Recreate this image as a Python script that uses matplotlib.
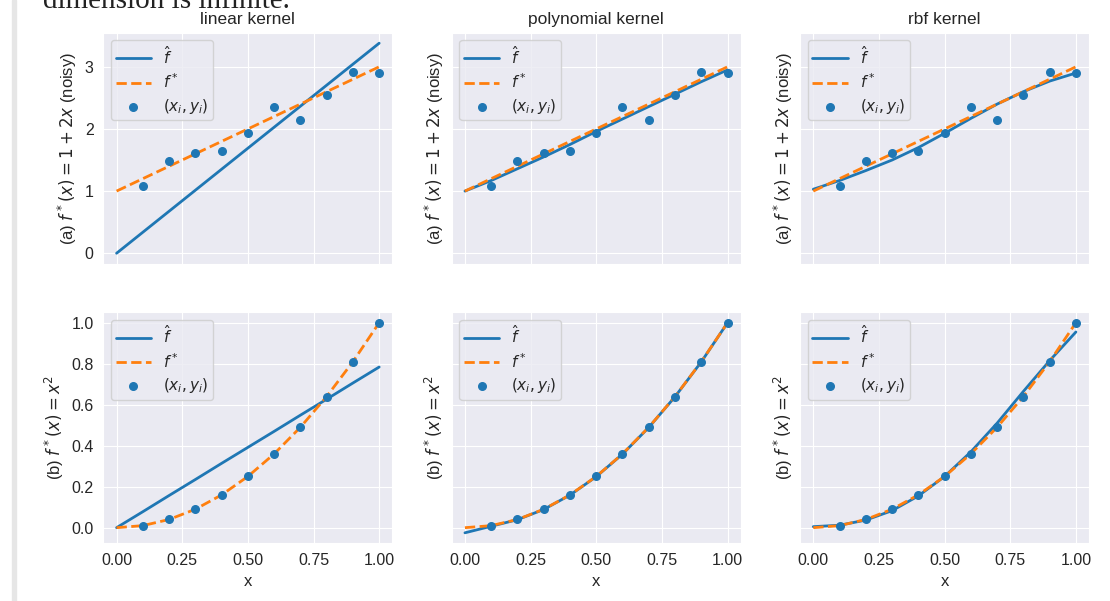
import numpy as np
import matplotlib.pyplot as plt
import seaborn as sns
from matplotlib.patches import Rectangle

# grid the curves are drawn on, and the training inputs
x_grid = [0.0, 0.1, 0.2, 0.3, 0.4, 0.5, 0.6, 0.7, 0.8, 0.9, 1.0]
x_train = [0.1, 0.2, 0.3, 0.4, 0.5, 0.6, 0.7, 0.8, 0.9, 1.0]

# (a) f*(x) = 1 + 2x with noise
y_train_a = [1.09, 1.49, 1.62, 1.64, 1.94, 2.36, 2.15, 2.55, 2.92, 2.90]
f_star_a = [1.0, 1.2, 1.4, 1.6, 1.8, 2.0, 2.2, 2.4, 2.6, 2.8, 3.0]
f_hat_a = {
    "linear": [0.0, 0.338, 0.676, 1.014, 1.352, 1.69, 2.028, 2.366, 2.704, 3.042, 3.38],
    "polynomial": [1.00, 1.17, 1.36, 1.55, 1.75, 1.96, 2.16, 2.36, 2.56, 2.76, 2.95],
    "rbf": [1.03, 1.17, 1.33, 1.50, 1.70, 1.93, 2.17, 2.40, 2.60, 2.77, 2.90],
}

# (b) f*(x) = x^2, no noise
y_train_b = [0.01, 0.04, 0.09, 0.16, 0.25, 0.36, 0.49, 0.64, 0.81, 1.0]
f_star_b = [0.0, 0.01, 0.04, 0.09, 0.16, 0.25, 0.36, 0.49, 0.64, 0.81, 1.0]
f_hat_b = {
    "linear": [0.0, 0.078, 0.157, 0.235, 0.314, 0.392, 0.47, 0.549, 0.627, 0.706, 0.784],
    "polynomial": [-0.025, 0.007, 0.039, 0.089, 0.159, 0.249, 0.359, 0.489, 0.639, 0.809, 1.0],
    "rbf": [0.005, 0.012, 0.037, 0.083, 0.155, 0.25, 0.37, 0.51, 0.665, 0.815, 0.955],
}

kernels = ["linear", "polynomial", "rbf"]
row_labels = [r"(a) $f^*(x) = 1 + 2x$ (noisy)", r"(b) $f^*(x) = x^2$"]

sns.set_style("darkgrid")
plt.rcParams["font.family"] = ["Liberation Sans", "DejaVu Sans"]
plt.rcParams["xtick.labelsize"] = 11.5
plt.rcParams["ytick.labelsize"] = 11.5
plt.rcParams["axes.labelsize"] = 12
plt.rcParams["axes.titlesize"] = 12.5
plt.rcParams["legend.fontsize"] = 11

fig, axes = plt.subplots(2, 3, figsize=(11.1, 6.01), dpi=100, sharex=True, sharey="row")
fig.subplots_adjust(left=0.0932, right=0.9811, top=0.9456, bottom=0.096,
                    wspace=0.206, hspace=0.21)

rows = [(y_train_a, f_star_a, f_hat_a), (y_train_b, f_star_b, f_hat_b)]
for r, (y_train, f_star, f_hat) in enumerate(rows):
    for c, k in enumerate(kernels):
        ax = axes[r, c]
        ax.plot(x_grid, f_hat[k], color="#1f77b4", lw=2, label=r"$\hat{f}$")
        ax.plot(x_grid, f_star, color="#ff7f0e", lw=2, ls="--", label=r"$f^*$")
        ax.scatter(x_train, y_train, color="#1f77b4", s=30, zorder=3,
                   label=r"$(x_i, y_i)$")
        ax.set_ylabel(row_labels[r])
        ax.yaxis.set_tick_params(labelleft=(c == 0))
        ax.legend(loc="upper left", handlelength=2.3, labelspacing=0.37, borderpad=0.3)
        if r == 0:
            ax.set_title(f"{k} kernel")
        else:
            ax.set_xlabel("x")

axes[1, 0].set_xticks([0.0, 0.25, 0.5, 0.75, 1.0])
axes[0, 0].set_yticks([0, 1, 2, 3])
axes[1, 0].set_yticks([0.0, 0.2, 0.4, 0.6, 0.8, 1.0])

# page furniture around the figure: side rule and the preceding line of text
fig.patches.append(Rectangle((12 / 1110, 0), 4 / 1110, 1, transform=fig.transFigure,
                             color="#e6e6e6", zorder=0))
fig.text(43 / 1110, 1 - 8 / 601, "dimension is infinite.", family="Liberation Serif",
         fontsize=21, va="baseline", ha="left", color="#222222")

fig.savefig("out.png", dpi=100)
